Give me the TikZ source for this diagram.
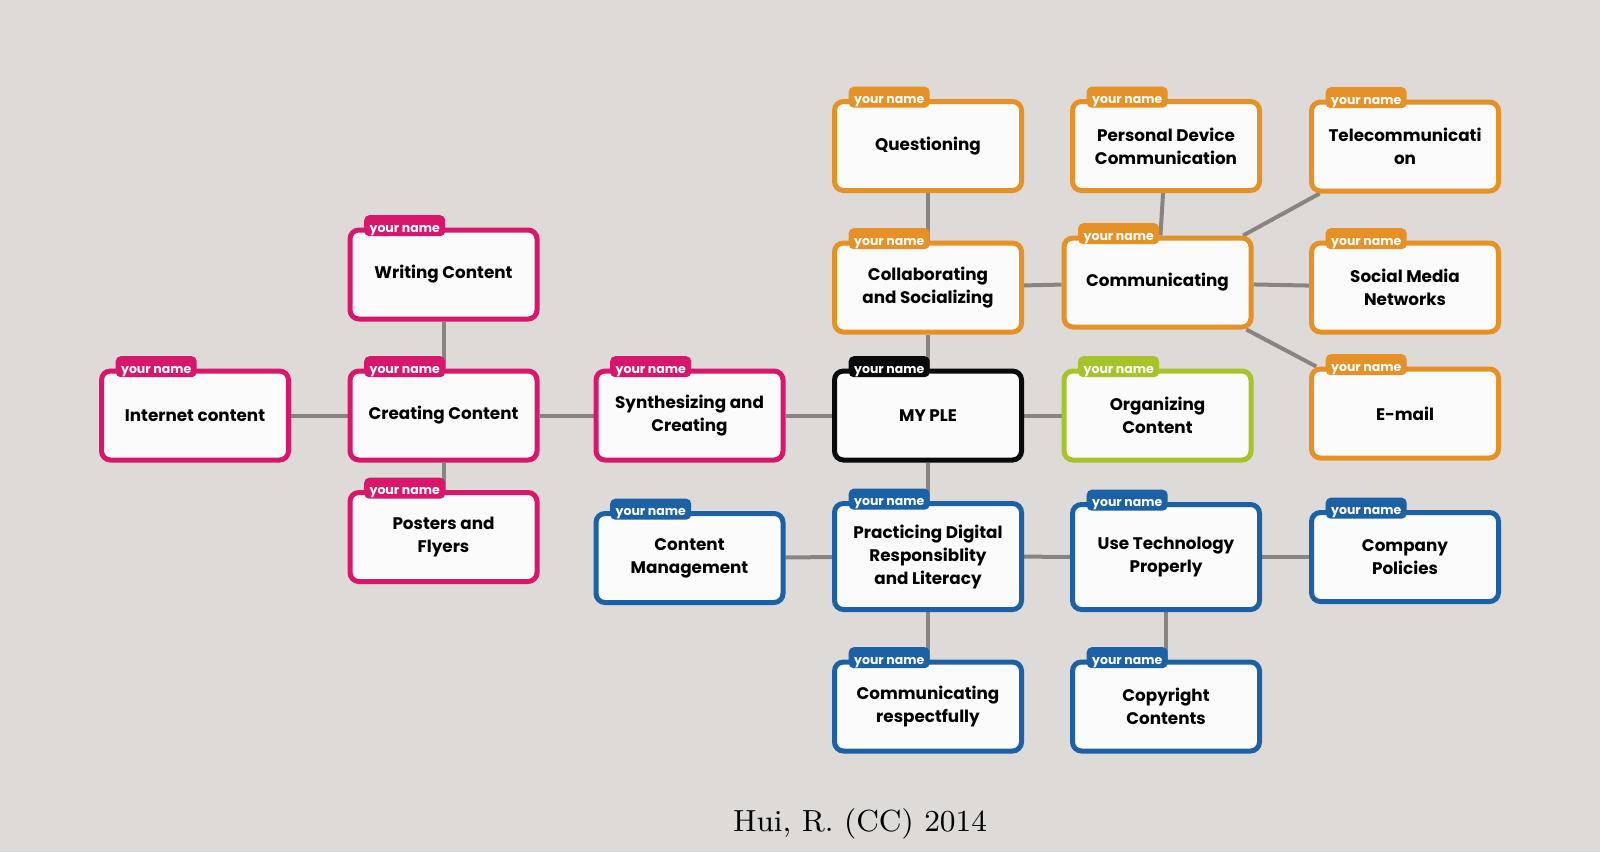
\documentclass[tikz,border=0pt]{standalone}
\usepackage{fontspec}
\newfontfamily\boxfont{Poppins}
\newfontfamily\capfont{lmroman9-regular}[Extension=.otf]
\usetikzlibrary{backgrounds}
\definecolor{bgc}{HTML}{DDDAD7}
\definecolor{boxfill}{HTML}{FBFBFB}
\definecolor{connc}{HTML}{878482}
\definecolor{cpink}{HTML}{D8176C}
\definecolor{corange}{HTML}{E69125}
\definecolor{cgreen}{HTML}{A6C42A}
\definecolor{cblue}{HTML}{1C60A6}
\definecolor{cblack}{HTML}{0A0A0A}
\tikzset{
  plebox/.style={draw=#1, line width=5pt, rounded corners=9pt, fill=boxfill,
    minimum width=187pt, minimum height=89pt, align=center, inner sep=0pt,
    text=black, font={\boxfont\bfseries\fontsize{16.8}{23}\selectfont}},
  tab/.style={fill=#1, rounded corners=5pt, minimum width=81pt, minimum height=21pt,
    inner sep=0pt, anchor=north west},
  tabtext/.style={inner sep=0pt, text=white,
    font={\boxfont\bfseries\fontsize{12.5}{12.5}\selectfont}},
  conn/.style={draw=connc, line width=4pt},
}
\newcommand\mkbox[6][]{%
  \node[plebox=#3,#1] (#2) at (#4,#5) {#6};
  \node[tab=#3] (#2t) at ([xshift=16.5pt,yshift=12.5pt]#2.north west) {};
  \node[tabtext] (#2n) at ([yshift=-4.5pt]#2t.center) {your name};
}
\begin{document}
\begin{tikzpicture}[x=1pt,y=-1pt]
\useasboundingbox (0,0) rectangle (1600,852);
% boxes
\mkbox{inet}{cpink}{195}{415.5}{Internet content}
\mkbox{create}{cpink}{443.5}{415.5}{Creating Content}
\mkbox{write}{cpink}{443.5}{274.5}{Writing Content}
\mkbox{poster}{cpink}{443.5}{537}{Posters and\\Flyers}
\mkbox{synth}{cpink}{689.5}{415.5}{Synthesizing and\\Creating}
\mkbox{ple}{cblack}{928}{415.5}{MY PLE}
\mkbox{collab}{corange}{928}{287.5}{Collaborating\\and Socializing}
\mkbox{quest}{corange}{928}{146}{Questioning}
\mkbox{comm}{corange}{1157.5}{282.5}{Communicating}
\mkbox{pers}{corange}{1166}{146}{Personal Device\\Communication}
\mkbox{tele}{corange}{1405}{146.5}{Telecommunicati\\on}
\mkbox{social}{corange}{1405}{287.5}{Social Media\\Networks}
\mkbox{email}{corange}{1405}{413.5}{E-mail}
\mkbox{org}{cgreen}{1157.5}{415.5}{Organizing\\Content}
\mkbox{cmgmt}{cblue}{689.5}{558}{Content\\Management}
\mkbox[minimum height=106pt]{pract}{cblue}{928}{556.5}{Practicing Digital\\Responsiblity\\and Literacy}
\mkbox[minimum height=105pt]{usetech}{cblue}{1166}{557}{Use Technology\\Properly}
\mkbox{company}{cblue}{1405}{557}{Company\\Policies}
\mkbox{commresp}{cblue}{928}{706.5}{Communicating\\respectfully}
\mkbox{copyr}{cblue}{1166}{706.5}{Copyright\\Contents}
\node[font={\capfont\fontsize{30.5}{36}\selectfont}, text=black, anchor=base, inner sep=0pt] (cap) at (860,831) {Hui, R. (CC) 2014};
% background and connectors
\begin{scope}[on background layer]
  \fill[bgc] (0,0) rectangle (1600,852);
  \draw[conn] (inet) -- (create);
  \draw[conn] (create) -- (write);
  \draw[conn] (create) -- (poster);
  \draw[conn] (create) -- (synth);
  \draw[conn] (synth) -- (ple);
  \draw[conn] (ple) -- (collab);
  \draw[conn] (ple) -- (org);
  \draw[conn] (ple) -- (pract);
  \draw[conn] (collab) -- (quest);
  \draw[conn] (collab) -- (comm);
  \draw[conn] (comm) -- (pers);
  \draw[conn] (comm) -- (tele);
  \draw[conn] (comm) -- (social);
  \draw[conn] (comm) -- (email);
  \draw[conn] (pract) -- (cmgmt);
  \draw[conn] (pract) -- (usetech);
  \draw[conn] (pract) -- (commresp);
  \draw[conn] (usetech) -- (company);
  \draw[conn] (usetech) -- (copyr);
\end{scope}
\end{tikzpicture}
\end{document}
